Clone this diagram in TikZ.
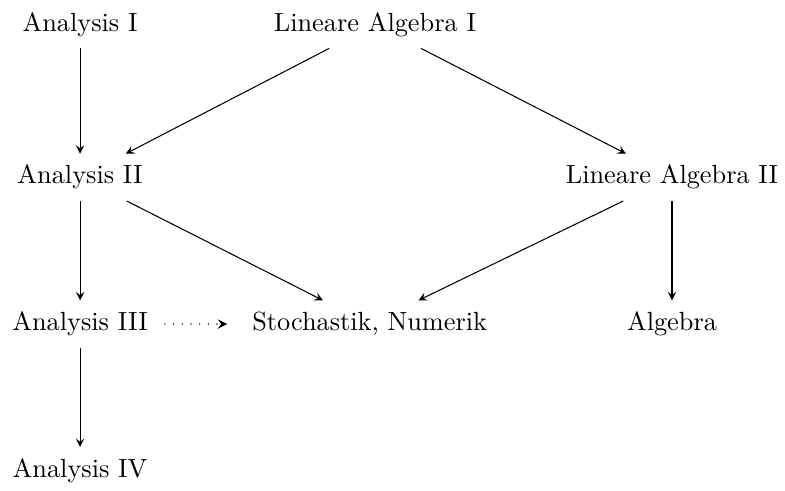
\documentclass[tikz,border=0pt]{standalone}
\usetikzlibrary{arrows}

\begin{document}
\begin{tikzpicture}[>=stealth, every node/.style={text height=7pt, text depth=2pt, inner sep=4.3pt}]
  \useasboundingbox (0,0) rectangle (10.49,-6.55);

  % row 1
  \node (ana1) at (1.07,-0.33) {Analysis I};
  \node (la1) at (5.01,-0.33) {Lineare Algebra I};

  % row 2
  \node (ana2) at (1.07,-2.37) {Analysis II};
  \node (la2) at (8.98,-2.37) {Lineare Algebra II};

  % row 3
  \node (ana3) at (1.07,-4.33) {Analysis III};
  \node (stoch) at (4.94,-4.33) {Stochastik, Numerik};
  \node (alg) at (8.98,-4.33) {Algebra};

  % row 4
  \node (ana4) at (1.07,-6.29) {Analysis IV};

  \draw[->] (ana1) -- (ana2);
  \draw[->] (la1) -- (ana2);
  \draw[->] (la1) -- (la2);
  \draw[->] (ana2) -- (ana3);
  \draw[->] (ana2) -- (stoch);
  \draw[->] (la2) -- (stoch);
  \draw[->] (la2) -- (alg);
  \draw[->] (ana3) -- (ana4);
  % dotted link
  \draw[->, line width=0.6pt, line cap=round, dash pattern=on 0pt off 3.3pt,
        shorten <=2pt, shorten >=5pt] (ana3) -- (stoch);
\end{tikzpicture}
\end{document}
